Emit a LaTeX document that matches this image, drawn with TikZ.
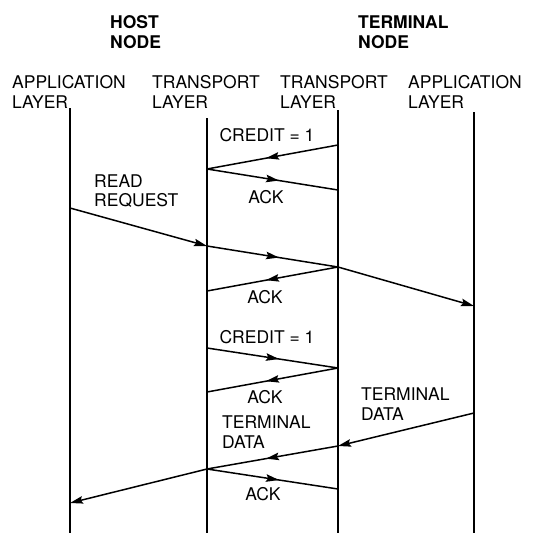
\documentclass[tikz,border=0pt]{standalone}
\usepackage{fontspec}
\setmainfont{TeX Gyre Heros}
\usetikzlibrary{arrows.meta,decorations.markings}

\begin{document}
\begin{tikzpicture}[x=1pt,y=-1pt,
    lifeline/.style={line width=2.8pt},
    msg/.style={line width=1.5pt},
    endarrow/.style={msg,-{Stealth[length=13pt,width=7.5pt,inset=2pt]}},
    midarrow/.style={msg,decoration={markings,mark=at position 0.55 with {\arrow{Stealth[length=13pt,width=7.5pt,inset=2pt]}}},postaction={decorate}},
    lbl/.style={inner sep=0pt,align=left,font=\fontsize{17.5}{19.5}\selectfont},
    hdr/.style={inner sep=0pt,align=left,font=\fontsize{17.5}{19.5}\selectfont\bfseries}]
    \useasboundingbox (0,0) rectangle (533,533);

    % Node headings
    \node[hdr, anchor=west] (host) at (110,32) {HOST\\NODE};
    \node[hdr, anchor=west] (term) at (358,32) {TERMINAL\\NODE};

    % Layer headings
    \node[lbl, anchor=west] (happ) at (12,92) {APPLICATION\\LAYER};
    \node[lbl, anchor=west] (htra) at (152,92) {TRANSPORT\\LAYER};
    \node[lbl, anchor=west] (ttra) at (280,92) {TRANSPORT\\LAYER};
    \node[lbl, anchor=west] (tapp) at (408,92) {APPLICATION\\LAYER};

    % Lifelines
    \coordinate (hatop) at (70,108);   \coordinate (habot) at (70,533);
    \coordinate (httop) at (207,118);  \coordinate (htbot) at (207,533);
    \coordinate (tttop) at (338,110);  \coordinate (ttbot) at (338,533);
    \coordinate (tatop) at (474,112);  \coordinate (tabot) at (474,533);
    \draw[lifeline] (hatop) -- (habot);
    \draw[lifeline] (httop) -- (htbot);
    \draw[lifeline] (tttop) -- (ttbot);
    \draw[lifeline] (tatop) -- (tabot);

    % Events on the lifelines
    \coordinate (c1a) at (338,145);
    \coordinate (c1b) at (207,169);
    \coordinate (a1b) at (338,190);
    \coordinate (r1a) at (70,208);
    \coordinate (r1b) at (207,246);
    \coordinate (r1c) at (338,267);
    \coordinate (r1d) at (474,306);
    \coordinate (a2b) at (207,291);
    \coordinate (c2a) at (207,348);
    \coordinate (c2b) at (338,368);
    \coordinate (a3b) at (207,392);
    \coordinate (d1a) at (474,413);
    \coordinate (d1b) at (338,446);
    \coordinate (d1c) at (207,469);
    \coordinate (d1d) at (70,503);
    \coordinate (a4b) at (338,489);

    % Messages
    \draw[midarrow] (c1a) -- (c1b);
    \draw[midarrow] (c1b) -- (a1b);
    \draw[endarrow] (r1a) -- (r1b);
    \draw[midarrow] (r1b) -- (r1c);
    \draw[endarrow] (r1c) -- (r1d);
    \draw[midarrow] (r1c) -- (a2b);
    \draw[midarrow] (c2a) -- (c2b);
    \draw[midarrow] (c2b) -- (a3b);
    \draw[endarrow] (d1a) -- (d1b);
    \draw[midarrow] (d1b) -- (d1c);
    \draw[endarrow] (d1c) -- (d1d);
    \draw[midarrow] (d1c) -- (a4b);

    % Message labels
    \node[lbl] (credit1) at (267,135) {CREDIT = 1};
    \node[lbl] (ack1) at (266,197) {ACK};
    \node[lbl, anchor=west] (readreq) at (94,191) {READ\\REQUEST};
    \node[lbl] (ack2) at (265,297) {ACK};
    \node[lbl] (credit2) at (267,337) {CREDIT = 1};
    \node[lbl] (ack3) at (265,397) {ACK};
    \node[lbl, anchor=west] (tdata1) at (361,404) {TERMINAL\\DATA};
    \node[lbl, anchor=west] (tdata2) at (222,432) {TERMINAL\\DATA};
    \node[lbl] (ack4) at (263,494) {ACK};
\end{tikzpicture}
\end{document}
